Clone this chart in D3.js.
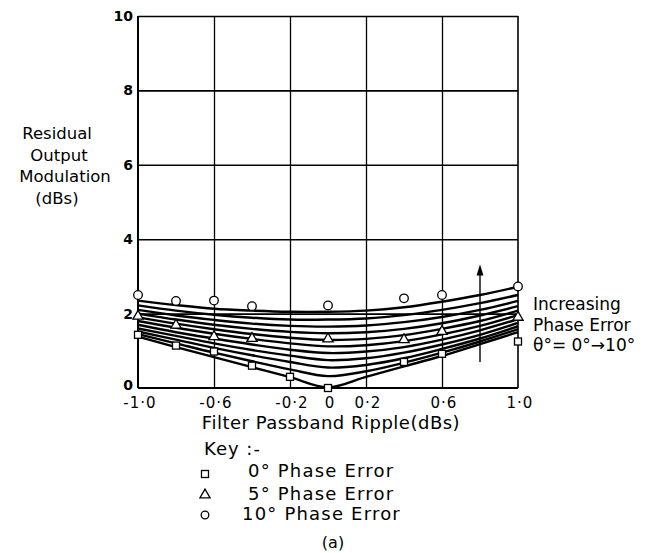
<!DOCTYPE html>
<html><head><meta charset="utf-8">
<script src="https://cdn.jsdelivr.net/npm/d3@7"></script>
<style>
body{margin:0;background:#fff;}
svg{display:block;}
text{font-family:"DejaVu Sans",sans-serif;fill:#000;}
</style></head>
<body>
<svg id="c" width="657" height="553"></svg>
<script>
// ---- data ----
const xValues = [-1.0,-0.8,-0.6,-0.4,-0.2,0,0.2,0.4,0.6,0.8,1.0];
const phaseErrors = [0,1,2,3,4,5,6,7,8,9,10];
const curve0  = [1.38,1.10,0.83,0.56,0.29,0.02,0.30,0.58,0.86,1.18,1.50];
const curve1  = [1.45,1.20,0.95,0.72,0.50,0.32,0.45,0.68,0.95,1.25,1.58];
const curve2  = [1.52,1.30,1.08,0.88,0.70,0.55,0.62,0.80,1.05,1.33,1.66];
const curve3  = [1.60,1.40,1.20,1.02,0.87,0.75,0.80,0.95,1.17,1.43,1.75];
const curve4  = [1.70,1.50,1.33,1.17,1.03,0.94,0.98,1.10,1.30,1.55,1.85];
const curve5  = [1.80,1.62,1.46,1.32,1.20,1.12,1.15,1.26,1.44,1.67,1.96];
const curve6  = [1.90,1.73,1.58,1.45,1.35,1.29,1.32,1.42,1.59,1.80,2.08];
const curve7  = [2.00,1.84,1.70,1.59,1.51,1.47,1.50,1.59,1.74,1.95,2.20];
const curve8  = [2.10,1.95,1.83,1.73,1.67,1.65,1.68,1.77,1.91,2.10,2.34];
const curve9  = [2.22,2.08,1.97,1.89,1.84,1.84,1.87,1.96,2.10,2.28,2.50];
const curve10 = [2.35,2.23,2.13,2.08,2.05,2.05,2.08,2.17,2.32,2.50,2.72];
const curves = [curve0,curve1,curve2,curve3,curve4,curve5,curve6,curve7,curve8,curve9,curve10];

const squareX = [-1.0,-0.8,-0.6,-0.4,-0.2,0,0.4,0.6,1.0];
const squareY = [1.43,1.14,0.98,0.60,0.30,0.00,0.70,0.92,1.25];
const triangleX = [-1.0,-0.8,-0.6,-0.4,0,0.4,0.6,1.0];
const triangleY = [1.93,1.69,1.38,1.33,1.32,1.30,1.52,1.90];
const circleX = [-1.0,-0.8,-0.6,-0.4,0,0.4,0.6,1.0];
const circleY = [2.50,2.34,2.35,2.20,2.22,2.41,2.50,2.73];

const xTicks = [-1.0,-0.6,-0.2,0,0.2,0.6,1.0];
const xTickLabels = ["-1·0","-0·6","-0·2","0","0·2","0·6","1·0"];
const xGrid = [-0.6,-0.2,0.2,0.6];
const yTicks = [0,2,4,6,8,10];
const yTickLabels = ["0","2","4","6","8","10"];
const legendLabels = ["0° Phase Error","5° Phase Error","10° Phase Error"];

// ---- chart ----
const svg = d3.select("#c");
const x = d3.scaleLinear().domain([-1,1]).range([138,518]);
const y = d3.scaleLinear().domain([0,10]).range([388,16]);

// horizontal gridlines
const gY = svg.append("g").attr("transform",`translate(${x(-1)},0)`)
  .call(d3.axisLeft(y).tickValues(yTicks.filter(v=>v>0)).tickSize(-(x(1)-x(-1))).tickFormat(""));
gY.select(".domain").remove();
gY.selectAll("line").attr("stroke","#000").attr("stroke-width",1.6);

// vertical gridlines
const gX = svg.append("g").attr("transform",`translate(0,${y(0)})`)
  .call(d3.axisBottom(x).tickValues(xGrid).tickSize(-(y(0)-y(10))).tickFormat(""));
gX.select(".domain").remove();
gX.selectAll("line").attr("stroke","#000").attr("stroke-width",1.3);

// frame: left, bottom, right
svg.append("line").attr("x1",x(-1)).attr("x2",x(-1)).attr("y1",y(10)).attr("y2",y(0)).attr("stroke","#000").attr("stroke-width",2);
svg.append("line").attr("x1",x(-1)).attr("x2",x(1)).attr("y1",y(0)).attr("y2",y(0)).attr("stroke","#000").attr("stroke-width",2);
svg.append("line").attr("x1",x(1)).attr("x2",x(1)).attr("y1",y(10)).attr("y2",y(0)).attr("stroke","#000").attr("stroke-width",1.6);

// tick labels
svg.append("g").selectAll("text").data(yTicks).join("text")
  .attr("x",133).attr("y",d=>d===0?y(d)+2:y(d)+5).attr("text-anchor","end")
  .attr("font-size",14).attr("font-weight","bold").text((d,i)=>yTickLabels[i]);
svg.append("g").selectAll("text").data(xTicks).join("text")
  .attr("x",d=>x(d)+2).attr("y",408).attr("text-anchor","middle")
  .attr("font-size",15).attr("letter-spacing",1).text((d,i)=>xTickLabels[i]);

// curves
const line = d3.line().x((d,i)=>x(xValues[i])).y(d=>y(d)).curve(d3.curveCatmullRom.alpha(0.5));
svg.append("g").selectAll("path").data(curves).join("path")
  .attr("d",line).attr("fill","none").attr("stroke","#000").attr("stroke-width",2.4);

// arrow
svg.append("line").attr("x1",x(0.8)).attr("x2",x(0.8)).attr("y1",y(0.7)).attr("y2",y(3.1))
  .attr("stroke","#000").attr("stroke-width",1.4);
svg.append("path").attr("d",`M${x(0.8)},${y(3.32)} L${x(0.8)-3.5},${y(3.32)+11} L${x(0.8)+3.5},${y(3.32)+11} Z`).attr("fill","#000");

// markers
const mk = svg.append("g");
mk.selectAll("rect").data(squareX).join("rect")
  .attr("x",(d)=>x(d)-3.5).attr("y",(d,i)=>y(squareY[i])-3.5).attr("width",7).attr("height",7)
  .attr("fill","#fff").attr("stroke","#000").attr("stroke-width",1.3);
const tri = d3.symbol().type(d3.symbolTriangle).size(45);
mk.selectAll("path.t").data(triangleX).join("path").attr("class","t")
  .attr("d",tri).attr("transform",(d,i)=>`translate(${x(d)},${y(triangleY[i])})`)
  .attr("fill","#fff").attr("stroke","#000").attr("stroke-width",1.3);
mk.selectAll("circle").data(circleX).join("circle")
  .attr("cx",d=>x(d)).attr("cy",(d,i)=>y(circleY[i])).attr("r",4.3)
  .attr("fill","#fff").attr("stroke","#000").attr("stroke-width",1.3);

// y axis title
svg.append("text").attr("x",57).attr("y",139).attr("text-anchor","middle").attr("font-size",16.5)
  .selectAll("tspan").data(["Residual","Output","Modulation","(dBs)"]).join("tspan")
  .attr("x",(d,i)=>i===2?65:(i===1?59:57)).attr("dy",(d,i)=>i===0?0:21.5).text(d=>d);

// x axis title
svg.append("text").attr("x",331).attr("y",429).attr("text-anchor","middle").attr("font-size",18)
  .attr("letter-spacing",0.5).text("Filter Passband Ripple(dBs)");

// annotation
svg.append("text").attr("x",533).attr("y",310).attr("font-size",17)
  .selectAll("tspan").data(["Increasing","Phase Error","θ°= 0°→10°"]).join("tspan")
  .attr("x",533).attr("dy",(d,i)=>i===0?0:20.5).text(d=>d);

// key
svg.append("text").attr("x",204).attr("y",455).attr("font-size",18).attr("letter-spacing",1).text("Key :-");
const lg = svg.append("g");
const legY = [477,500,520];
lg.append("rect").attr("x",201.5).attr("y",470.5).attr("width",7).attr("height",7).attr("fill","#fff").attr("stroke","#000").attr("stroke-width",1.3);
lg.append("path").attr("d",tri).attr("transform",`translate(205,495)`).attr("fill","#fff").attr("stroke","#000").attr("stroke-width",1.3);
lg.append("circle").attr("cx",205).attr("cy",515).attr("r",3.8).attr("fill","#fff").attr("stroke","#000").attr("stroke-width",1.3);
lg.selectAll("text").data(legendLabels).join("text")
  .attr("x",(d,i)=>i===2?242:248).attr("y",(d,i)=>legY[i]).attr("font-size",18).attr("letter-spacing",1.2).text(d=>d);

// caption
svg.append("text").attr("x",333).attr("y",548).attr("text-anchor","middle")
  .attr("font-family","Liberation Serif, serif").attr("font-size",16).text("(a)");
</script>
</body></html>
